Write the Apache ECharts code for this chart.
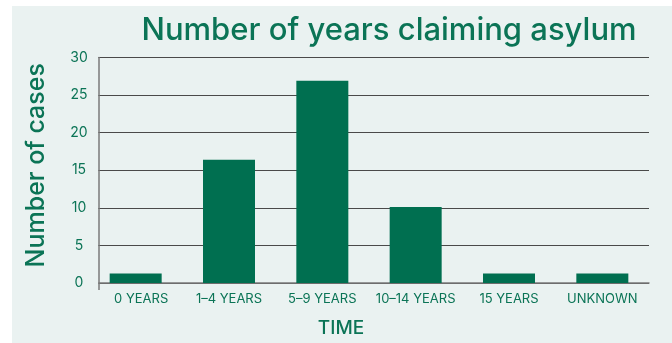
<!DOCTYPE html>
<html>
<head>
<meta charset="utf-8">
<style>
  html, body { margin: 0; padding: 0; background: #ffffff; }
  #chart { width: 672px; height: 343px; }
</style>
<script src="https://cdn.jsdelivr.net/npm/echarts@6/dist/echarts.min.js"></script>
</head>
<body>
<div id="chart"></div>
<script>
// Years spent claiming asylum, grouped into bands
const categories = ['0 YEARS', '1–4 YEARS', '5–9 YEARS', '10–14 YEARS', '15 YEARS', 'UNKNOWN'];
const cases = [1.25, 16.4, 26.9, 10.1, 1.25, 1.25];
const yTicks = [0, 5, 10, 15, 20, 25, 30];

const GREEN = '#006f50';
const TEXT_GREEN = '#0b7456';
const PANEL = '#eaf2f1';
const FONT = 'Inter, Lato, "Noto Sans", sans-serif';

const chart = echarts.init(document.getElementById('chart'), null, { renderer: 'canvas' });

chart.setOption({
  backgroundColor: '#ffffff',
  animation: false,
  title: {
    text: 'Number of years claiming asylum',
    left: 384,
    top: 10,
    textAlign: 'center',
    textStyle: { color: TEXT_GREEN, fontFamily: FONT, fontSize: 31, fontWeight: 500 }
  },
  grid: { left: 89, right: 23, top: 57.5, bottom: 59.5 },
  xAxis: {
    type: 'category',
    data: categories,
    boundaryGap: true,
    axisLine: { lineStyle: { color: '#7a7a7a', width: 1.5 } },
    axisTick: { interval: 0, length: 7, lineStyle: { color: '#555', width: 1.2 } },
    axisLabel: {
      interval: 0,
      color: TEXT_GREEN,
      fontFamily: FONT,
      fontSize: 13,
      margin: 10,
      formatter: (v, i) => i === 0 ? '{first|' + v + '}' : v,
      rich: { first: { padding: [0, 0, 0, 11], color: TEXT_GREEN, fontFamily: FONT, fontSize: 13 } }
    },
    name: 'TIME',
    nameLocation: 'middle',
    nameGap: 36,
    nameTextStyle: { color: TEXT_GREEN, fontFamily: FONT, fontSize: 19, fontWeight: 500, padding: [0, 56, 0, 0] },
    z: 5
  },
  yAxis: [
    {
      // gridlines only
      type: 'value',
      min: yTicks[0],
      max: yTicks[yTicks.length - 1],
      interval: yTicks[1] - yTicks[0],
      axisLine: { show: false },
      axisTick: { show: false },
      axisLabel: { show: false },
      splitLine: { lineStyle: { color: '#4a4a4a', width: 1 } },
      z: 1
    },
    {
      // visible axis, pulled in from the grid edge
      type: 'value',
      position: 'left',
      offset: -10,
      min: yTicks[0],
      max: yTicks[yTicks.length - 1],
      interval: yTicks[1] - yTicks[0],
      axisLine: { show: true, lineStyle: { color: '#7a7a7a', width: 1.5 } },
      axisTick: { show: false },
      splitLine: { show: false },
      axisLabel: {
        color: TEXT_GREEN,
        fontFamily: FONT,
        fontSize: 14,
        margin: 20,
        align: 'center',
        padding: [0, 0, 6, 0],
        formatter: v => yTicks.includes(v) ? String(v) : ''
      },
      name: 'Number of cases',
      nameLocation: 'middle',
      nameGap: 50,
      nameRotate: 90,
      nameTextStyle: { color: TEXT_GREEN, fontFamily: FONT, fontSize: 25, fontWeight: 500, padding: [0, 0, 0, 10] },
      z: 200
    }
  ],
  graphic: [
    {
      type: 'rect',
      shape: { x: 12, y: 6, width: 660, height: 337 },
      style: { fill: PANEL },
      z: -10,
      silent: true
    },
    {
      // masks the strip between the grid edge and the y axis
      type: 'rect',
      shape: { x: 86, y: 50, width: 12.3, height: 250 },
      style: { fill: PANEL },
      z: 100,
      silent: true
    },
    {
      type: 'line',
      shape: { x1: 99, y1: 283, x2: 99, y2: 290 },
      style: { stroke: '#7a7a7a', lineWidth: 1.5 },
      z: 200,
      silent: true
    }
  ],
  series: [
    {
      type: 'bar',
      data: cases,
      barWidth: 52,
      itemStyle: { color: GREEN },
      z: 10
    }
  ]
});
</script>
</body>
</html>
